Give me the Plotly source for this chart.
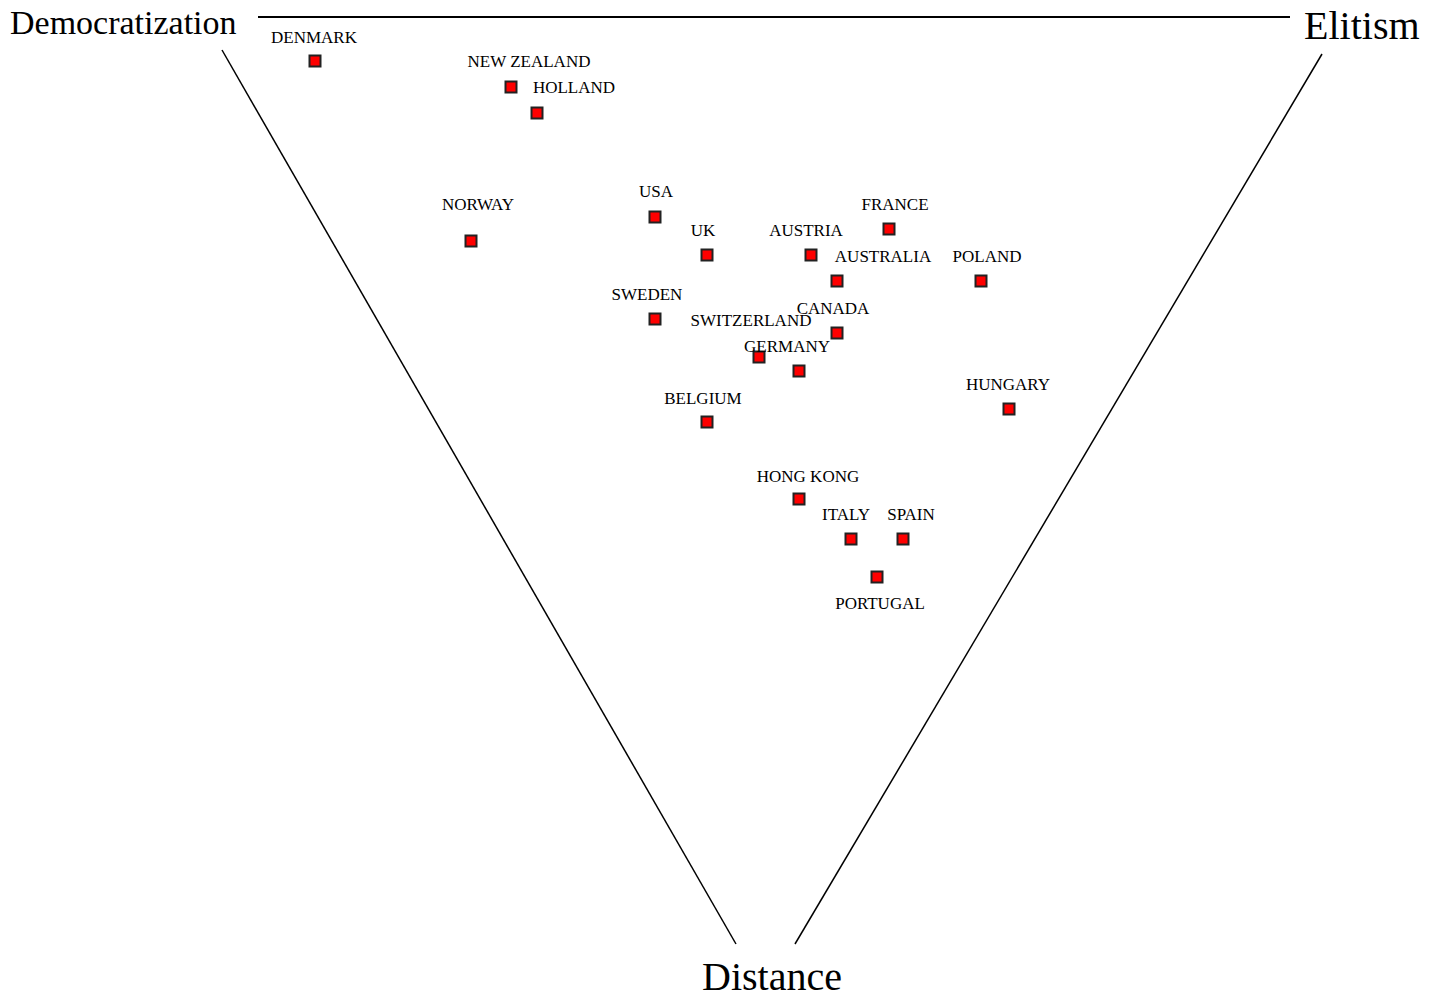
import plotly.graph_objects as go

# Country positions (horizontal: democratization -> elitism, vertical: distance score, downward)
countries = ["DENMARK", "NEW ZEALAND", "HOLLAND", "NORWAY", "USA", "UK", "AUSTRIA",
             "FRANCE", "AUSTRALIA", "POLAND", "SWEDEN", "SWITZERLAND", "CANADA",
             "GERMANY", "HUNGARY", "BELGIUM", "HONG KONG", "ITALY", "SPAIN", "PORTUGAL"]
x_vals = [315, 511, 537, 471, 655, 707, 811, 889, 837, 981, 655, 759, 837, 799, 1009, 707, 799, 851, 903, 877]
y_vals = [61, 87, 113, 241, 217, 255, 255, 229, 281, 281, 319, 357, 333, 371, 409, 422, 499, 539, 539, 577]

# label offsets relative to each marker (layout only)
label_dx = [-1, 18, 37, 7, 1, -4, -5, 6, 46, 6, -8, -8, -4, -12, -1, -4, 9, -5, 8, 3]
label_dy = [-22, -24, -24, -35, -24, -23, -23, -23, -23, -23, -23, -35, -23, -23, -23, -22, -21, -23, -23, 28]

corner_labels = ["Democratization", "Elitism", "Distance"]

# page body margin offset compensation
PAD = 8
W, H = 1438, 998
fig = go.Figure()

# triangle sides
fig.add_shape(type="line", x0=258, y0=17, x1=1290, y1=17, line=dict(color="black", width=2))
fig.add_shape(type="line", x0=222, y0=50, x1=736, y1=944, line=dict(color="black", width=1.5))
fig.add_shape(type="line", x0=1322, y0=54, x1=795, y1=944, line=dict(color="black", width=1.5))

fig.add_trace(go.Scatter(
    x=x_vals, y=y_vals, mode="markers",
    marker=dict(symbol="square", size=11, color="#ff0000",
                line=dict(color="#222222", width=2)),
    hovertext=countries, hoverinfo="text", showlegend=False))

fig.add_trace(go.Scatter(
    x=[x + dx for x, dx in zip(x_vals, label_dx)],
    y=[y + dy for y, dy in zip(y_vals, label_dy)],
    mode="text", text=countries, textposition="middle center",
    textfont=dict(family="Liberation Serif", size=17, color="black"),
    hoverinfo="skip", showlegend=False))

fig.add_annotation(x=123, y=22, text=corner_labels[0], showarrow=False,
                   font=dict(family="Liberation Serif", size=34, color="black"))
fig.add_annotation(x=1362, y=25, text=corner_labels[1], showarrow=False,
                   font=dict(family="Liberation Serif", size=40, color="black"))
fig.add_annotation(x=772, y=976, text=corner_labels[2], showarrow=False,
                   font=dict(family="Liberation Serif", size=40, color="black"))

fig.update_xaxes(range=[PAD, W - PAD], visible=False, showgrid=False, zeroline=False)
fig.update_yaxes(range=[H - PAD, PAD], visible=False, showgrid=False, zeroline=False)
fig.update_layout(width=W - 2 * PAD, height=H - 2 * PAD, margin=dict(l=0, r=0, t=0, b=0),
                  plot_bgcolor="white", paper_bgcolor="white")

fig.write_html("out.html")
